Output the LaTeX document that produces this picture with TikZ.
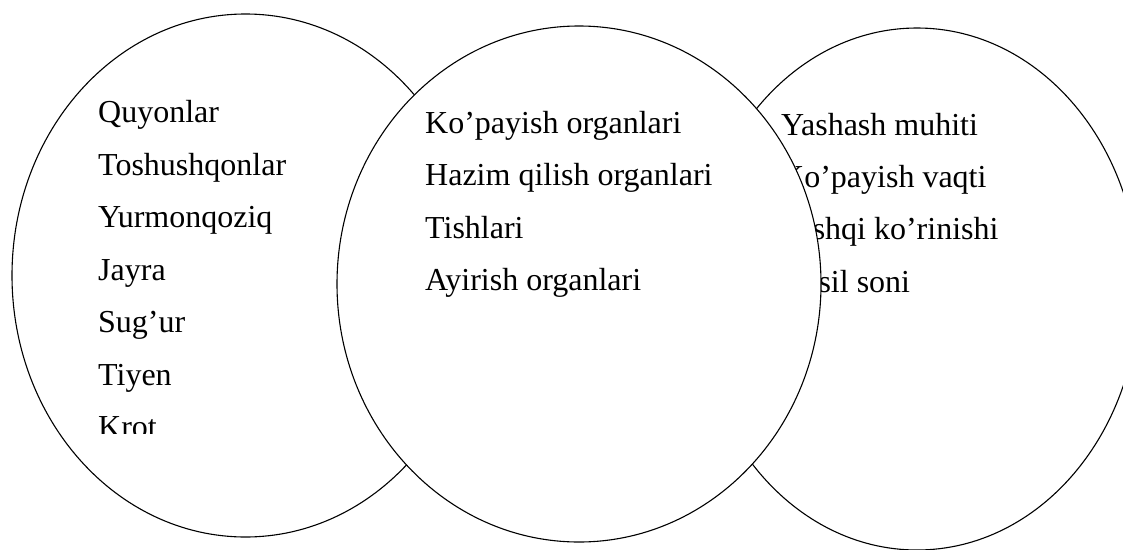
\documentclass[tikz,border=0pt]{standalone}
\usepackage{fontspec}
\setmainfont{Liberation Serif}
\usepackage{tikz}
\usetikzlibrary{shapes.geometric}

\begin{document}
\begin{tikzpicture}[x=1pt,y=-1pt,
    setring/.style={draw, ellipse, line width=1.1pt, inner sep=0pt},
    item/.style={anchor=base west, inner sep=0pt, font=\fontsize{32}{52}\selectfont}]
    \useasboundingbox (0,0) rectangle (1123,549);
    \clip (0,0) rectangle (1123,549);

    % left set
    \node[setring, minimum width=467pt, minimum height=523pt] (leftset) at (245.5,275.5) {};
    \begin{scope}
        \clip (0,0) rectangle (500,433);
        \node[item] (quyon) at (98,122) {Quyonlar};
        \node[item] (toshq) at (98,175) {Toshushqonlar};
        \node[item] (yurmon) at (98,227) {Yurmonqoziq};
        \node[item] (jayra) at (98,280) {Jayra};
        \node[item] (sugur) at (98,332) {Sug’ur};
        \node[item] (tiyen) at (98,385) {Tiyen};
        \node[item] (krot) at (98,437) {Krot};
    \end{scope}

    % right set
    \node[setring, minimum width=444pt, minimum height=522pt] (rightset) at (917,289) {};
    \node[item] (muhit) at (781,135) {Yashash muhiti};
    \node[item] (vaqt) at (781,187) {Ko’payish vaqti};
    \node[item] (tashqi) at (781,239) {Tashqi ko’rinishi};
    \node[item] (nasl) at (781,292) {Nasil soni};

    % middle set, drawn last so it hides the others
    \node[setring, fill=white, minimum width=484pt, minimum height=516pt] (midset) at (579,284) {};
    \node[item] (kopay) at (425,133) {Ko’payish organlari};
    \node[item] (hazim) at (425,185) {Hazim qilish organlari};
    \node[item] (tish) at (425,238) {Tishlari};
    \node[item] (ayir) at (425,290) {Ayirish organlari};
\end{tikzpicture}
\end{document}
